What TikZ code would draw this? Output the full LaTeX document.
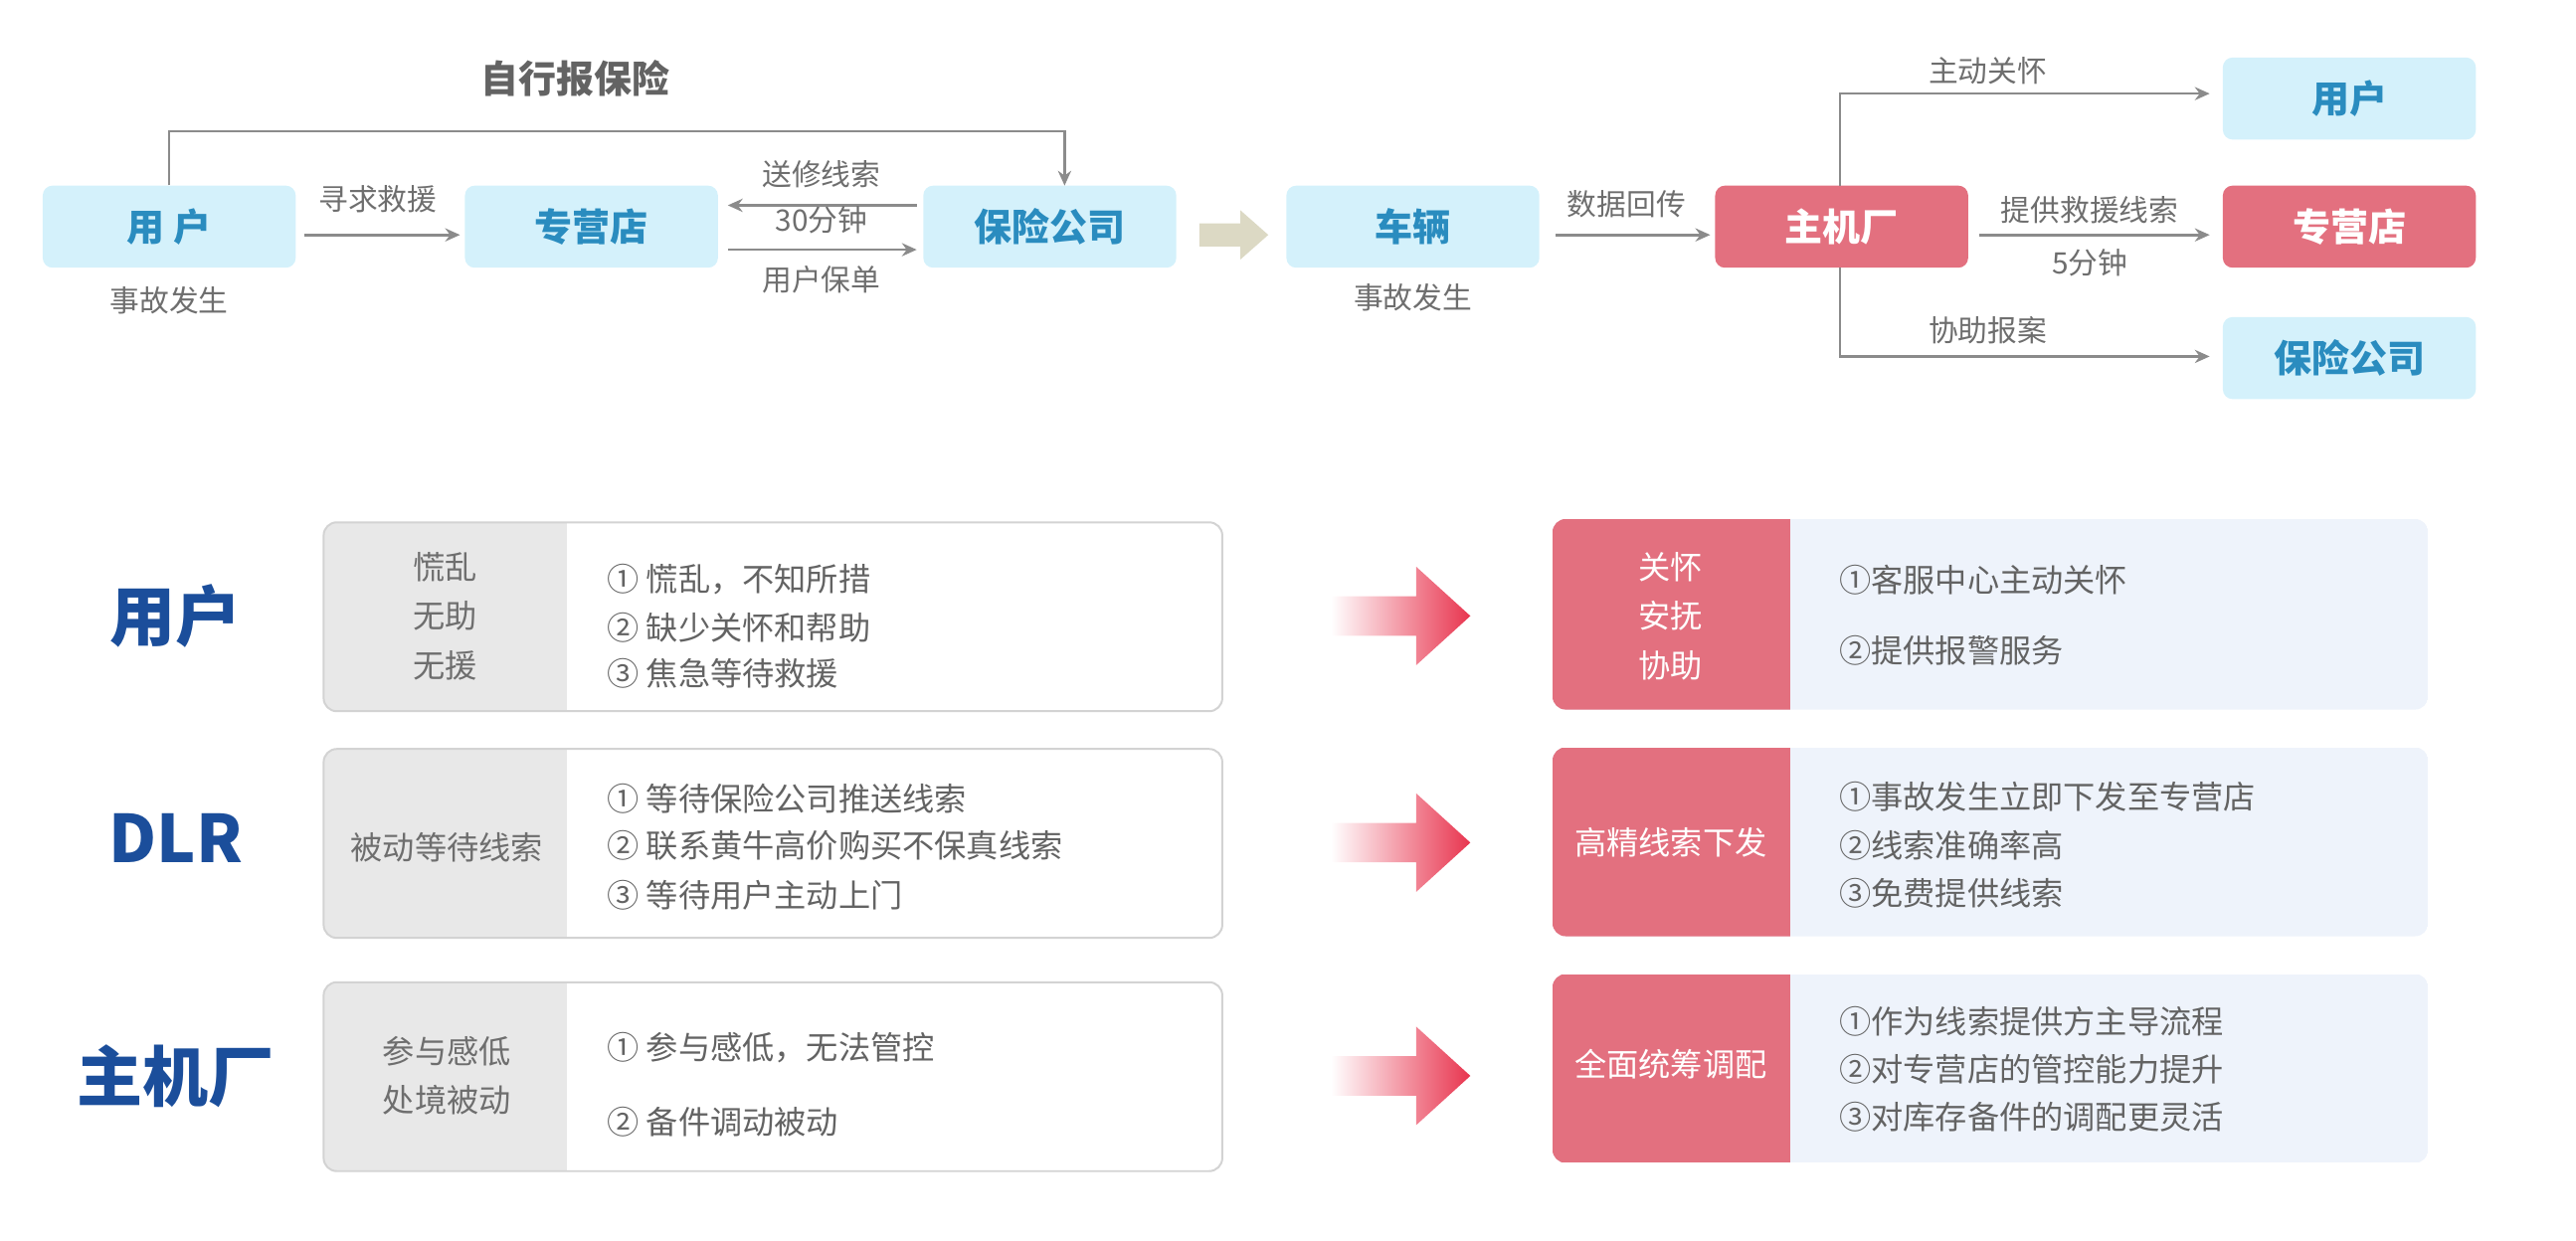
\documentclass[tikz,border=0pt]{standalone}
\usepackage{fontspec}
\setmainfont{Noto Sans CJK SC}
\usetikzlibrary{arrows.meta}
\definecolor{lb}{HTML}{D4F1FB}
\definecolor{lbt}{HTML}{2A8CBF}
\definecolor{pk}{HTML}{E3707F}
\definecolor{gt}{HTML}{6E6E6E}
\definecolor{dk}{HTML}{1B4E9B}
\definecolor{pg}{HTML}{E8E8E8}
\definecolor{rb}{HTML}{EEF3FB}
\definecolor{ar}{HTML}{E8354F}
\definecolor{bg}{HTML}{DCD9C4}
\tikzset{
 tb/.style={fill=lb,rounded corners=6pt,minimum width=154pt,minimum height=50pt,text=lbt,font=\fontsize{23}{26}\selectfont\bfseries},
 tp/.style={tb,fill=pk,text=white},
 lab/.style={text=gt,font=\fontsize{18}{20}\selectfont},
 con/.style={draw=gt!80,line width=1.6pt,-{Stealth[length=9pt,width=8pt]}},
 it/.style={text=gt!90!black,font=\fontsize{19.5}{24}\selectfont,anchor=west},
 rl/.style={text=dk,font=\fontsize{40}{44}\selectfont\bfseries},
}
\begin{document}
\begin{tikzpicture}[x=1pt,y=-1pt]
\useasboundingbox (0,0) rectangle (1568,755);
% top flow
\node[tb] (u) at (103,138) {用 户};
\node[tb] (z) at (360,138) {专营店};
\node[tb] (b) at (639,138) {保险公司};
\node[tb] (c) at (860,138) {车辆};
\node[tp] (m) at (1121,138) {主机厂};
\node[tb] (ru) at (1430,60) {用户};
\node[tp] (rz) at (1430,138) {专营店};
\node[tb] (rb) at (1430,218) {保险公司};
\node[lab] (e1) at (103,183) {事故发生};
\node[lab] (e2) at (860,181) {事故发生};
\node[text=gt!90!black,font=\fontsize{23}{26}\selectfont\bfseries] (t0) at (350,48) {自行报保险};
\draw[con] (u.north) -- (103,80) -| (648,113);
\draw[con] (185,143) -- (280,143);
\node[lab] at (230,121) {寻求救援};
\draw[con] (558,125) -- (443,125);
\draw[con] (443,152) -- (558,152);
\node[lab] at (500,106) {送修线索};
\node[lab] at (500,134) {30分钟};
\node[lab] at (500,170) {用户保单};
\fill[bg] (730,136) -- (755,136) -- (755,128) -- (772,143) -- (755,158) -- (755,150) -- (730,150) -- cycle;
\draw[con] (947,143) -- (1041,143);
\node[lab] at (990,124) {数据回传};
\draw[con] (1120,113) -- (1120,57) -- (1345,57);
\draw[con] (1120,163) -- (1120,217) -- (1345,217);
\draw[con] (1205,143) -- (1345,143);
\node[lab] at (1210,43) {主动关怀};
\node[lab] at (1210,201) {协助报案};
\node[lab] at (1272,128) {提供救援线索};
\node[lab] at (1272,160) {5分钟};
% bottom rows
\node[rl] at (107,375) {用户};
\node[rl,font=\fontsize{40}{44}\selectfont\bfseries] at (107,510) {DLR};
\node[rl] at (107,655) {主机厂};
\foreach \ya/\yb in {318/433,456/571,598/713}{
 \fill[white,rounded corners=8pt] (197,\ya) rectangle (744,\yb);
 \begin{scope}
 \clip[rounded corners=8pt] (197,\ya) rectangle (744,\yb);
 \fill[pg] (197,\ya) rectangle (345,\yb);
 \end{scope}
 \draw[pg!80!gray,line width=1.2pt,rounded corners=8pt] (197,\ya) rectangle (744,\yb);
}
\foreach \ya/\yb in {316/432,455/570,593/708}{
 \begin{scope}
 \clip[rounded corners=8pt] (945,\ya) rectangle (1478,\yb);
 \fill[rb] (945,\ya) rectangle (1478,\yb);
 \fill[pk] (945,\ya) rectangle (1090,\yb);
 \end{scope}
}
\foreach \y in {375,513,655}{
 \shade[left color=white,right color=ar] (810,\y-12) -- (862,\y-12) -- (862,\y-30) -- (895,\y) -- (862,\y+30) -- (862,\y+12) -- (810,\y+12) -- cycle;
}
\tikzset{gl/.style={text=gt,font=\fontsize{19.5}{30}\selectfont,align=center}, wl/.style={text=white,font=\fontsize{19.5}{30}\selectfont,align=center}}
\node[gl] at (271,375) {慌乱\\无助\\无援};
\node[gl] at (272,516) {被动等待线索};
\node[gl] at (272,655) {参与感低\\处境被动};
\node[it] at (366,353) {① 慌乱，不知所措};
\node[it] at (366,382) {② 缺少关怀和帮助};
\node[it] at (366,410) {③ 焦急等待救援};
\node[it] at (366,486) {① 等待保险公司推送线索};
\node[it] at (366,515) {② 联系黄牛高价购买不保真线索};
\node[it] at (366,545) {③ 等待用户主动上门};
\node[it] at (366,638) {① 参与感低，无法管控};
\node[it] at (366,683) {② 备件调动被动};
\node[wl] at (1017,375) {关怀\\安抚\\协助};
\node[wl] at (1017,513) {高精线索下发};
\node[wl] at (1017,648) {全面统筹调配};
\node[it] at (1116,353) {①客服中心主动关怀};
\node[it] at (1116,396) {②提供报警服务};
\node[it] at (1116,485) {①事故发生立即下发至专营店};
\node[it] at (1116,515) {②线索准确率高};
\node[it] at (1116,544) {③免费提供线索};
\node[it] at (1116,622) {①作为线索提供方主导流程};
\node[it] at (1116,651) {②对专营店的管控能力提升};
\node[it] at (1116,680) {③对库存备件的调配更灵活};
\end{tikzpicture}
\end{document}
